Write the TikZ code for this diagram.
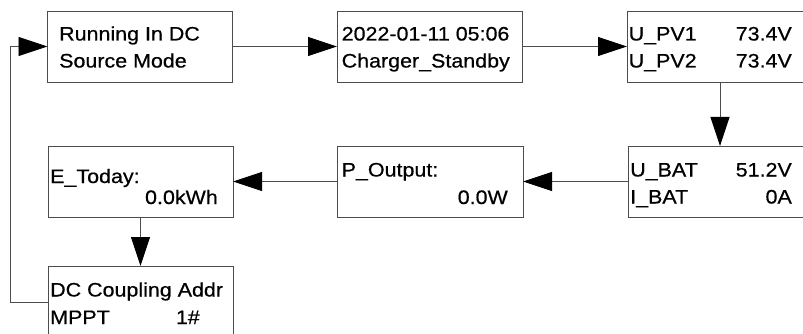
\documentclass[tikz,border=0pt]{standalone}
\usepackage{fontspec}
\setmainfont{Liberation Sans}[FakeStretch=1.1,FakeBold=0.6]
\usetikzlibrary{arrows.meta}
\begin{document}
\begin{tikzpicture}[x=1pt,y=-1pt,
  box/.style={draw=black!70, line width=0.9pt, rectangle, inner sep=0pt, outer sep=0pt, anchor=north west},
  lbl/.style={inner sep=0pt, font=\fontsize{19.5}{23}\selectfont},
  conn/.style={draw=black!70, line width=0.9pt, -{Triangle[length=29pt,width=19pt,color=black]}}]
\useasboundingbox (0,0) rectangle (803,334);
\clip (0,0) rectangle (803,334);
% boxes
\node[box, minimum width=184.5pt, minimum height=71pt] (b1) at (47.5,11) {};
\node[box, minimum width=185pt, minimum height=71pt] (b2) at (337,11) {};
\node[box, minimum width=180pt, minimum height=71pt] (b3) at (627,11) {};
\node[box, minimum width=180pt, minimum height=71pt] (b4) at (628,146) {};
\node[box, minimum width=186pt, minimum height=71pt] (b5) at (337,146) {};
\node[box, minimum width=185pt, minimum height=71pt] (b6) at (48,146) {};
\node[box, minimum width=185pt, minimum height=74pt] (b7) at (48,266) {};
% texts
\node[lbl, anchor=base west] (t1a) at (59,40.5) {Running In DC};
\node[lbl, anchor=base west] (t1b) at (59,67.5) {Source Mode};
\node[lbl, anchor=base west] (t2a) at (341.5,40.5) {2022-01-11 05:06};
\node[lbl, anchor=base west] (t2b) at (341.5,67.5) {Charger\_Standby};
\node[lbl, anchor=base west] (t3a) at (628.5,40.5) {U\_PV1};
\node[lbl, anchor=base east] (t3b) at (792,40.5) {73.4V};
\node[lbl, anchor=base west] (t3c) at (628.5,67.5) {U\_PV2};
\node[lbl, anchor=base east] (t3d) at (792,67.5) {73.4V};
\node[lbl, anchor=base west] (t4a) at (630,176.5) {U\_BAT};
\node[lbl, anchor=base east] (t4b) at (792,176.5) {51.2V};
\node[lbl, anchor=base west] (t4c) at (630,203.5) {I\_BAT};
\node[lbl, anchor=base east] (t4d) at (792,203.5) {0A};
\node[lbl, anchor=base west] (t5a) at (341.5,176.5) {P\_Output:};
\node[lbl, anchor=base east] (t5b) at (508,204) {0.0W};
\node[lbl, anchor=base west] (t6a) at (50,183) {E\_Today:};
\node[lbl, anchor=base east] (t6b) at (218,204) {0.0kWh};
\node[lbl, anchor=base west] (t7a) at (50,296.5) {DC Coupling Addr};
\node[lbl, anchor=base west] (t7b) at (50,324) {MPPT};
\node[lbl, anchor=base east] (t7c) at (200,324) {1\#};
% connectors
\coordinate (lp) at (10,0);
\draw[conn] (b1.east) -- (b2.west);
\draw[conn] (b2.east) -- (b3.west);
\draw[conn] ([xshift=93pt]b3.south west) -- ([xshift=92pt]b4.north west);
\draw[conn] (b4.west) -- (b5.east);
\draw[conn] (b5.west) -- (b6.east);
\draw[conn] (b6.south) -- (b7.north);
\draw[conn] ([yshift=1pt]b7.west) -- ([yshift=1pt]b7.west -| lp) -- (b1.west -| lp) -- (b1.west);
\end{tikzpicture}
\end{document}
